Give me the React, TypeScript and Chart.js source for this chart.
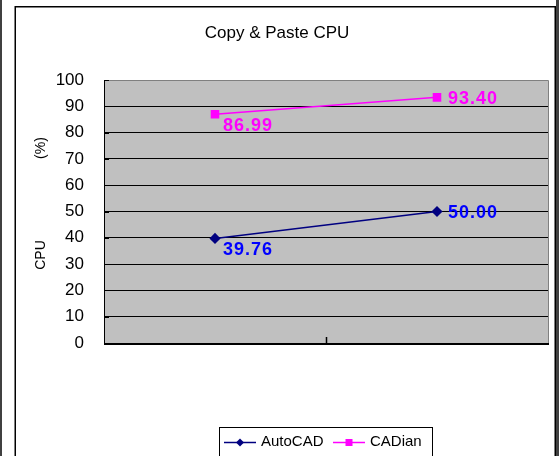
import React, { useEffect, useRef } from 'react';
import { Chart, registerables } from 'chart.js';

Chart.register(...registerables);

const chartTitle = 'Copy & Paste CPU';
const categories = ['Test 1', 'Test 2'];
const seriesNames = ['AutoCAD', 'CADian'];
const autocadValues = [39.76, 50.0];
const cadianValues = [86.99, 93.4];
const yMin = 0;
const yMax = 100;
const yStep = 10;
const yTitleParts = ['CPU', '(%)'];

const FONT = '"Liberation Sans", Arial, sans-serif';
const labelColors = ['#0000FF', '#FF00FF'];

const decorPlugin = {
  id: 'decor',
  beforeDraw(chart: any) {
    const { ctx, chartArea } = chart;
    ctx.save();
    ctx.fillStyle = '#ffffff';
    ctx.fillRect(0, 0, chart.width, chart.height);
    ctx.fillStyle = '#404040';
    ctx.fillRect(0, 0, 2, chart.height);
    ctx.fillRect(556, 0, 3, chart.height);
    ctx.strokeStyle = '#000';
    ctx.lineWidth = 1.5;
    ctx.strokeRect(15.25, 6.75, 540, 520);
    ctx.fillStyle = '#C0C0C0';
    ctx.fillRect(chartArea.left, chartArea.top, chartArea.right - chartArea.left, chartArea.bottom - chartArea.top);
    ctx.restore();
  },
  afterDatasetsDraw(chart: any) {
    const { ctx } = chart;
    ctx.save();
    ctx.font = `bold 18px ${FONT}`;
    try { (ctx as any).letterSpacing = '1px'; } catch (e) {}
    ctx.textAlign = 'left';
    ctx.textBaseline = 'middle';
    chart.data.datasets.forEach((ds: any, di: number) => {
      const meta = chart.getDatasetMeta(di);
      ctx.fillStyle = labelColors[di];
      meta.data.forEach((pt: any, i: number) => {
        const txt = Number(ds.data[i]).toFixed(2);
        if (i === 0) ctx.fillText(txt, pt.x + 8, pt.y + 12);
        else ctx.fillText(txt, pt.x + 11, pt.y + 2);
      });
    });
    ctx.restore();
  },
  afterDraw(chart: any) {
    const { ctx, chartArea, scales } = chart;
    const { left, right, top, bottom } = chartArea;
    ctx.save();
    ctx.strokeStyle = '#808080';
    ctx.lineWidth = 1;
    ctx.beginPath();
    ctx.moveTo(left, top + 0.5);
    ctx.lineTo(right + 0.5, top + 0.5);
    ctx.lineTo(right + 0.5, bottom);
    ctx.stroke();
    ctx.strokeStyle = '#000';
    ctx.beginPath();
    ctx.moveTo(left + 0.5, top);
    ctx.lineTo(left + 0.5, bottom);
    ctx.stroke();
    ctx.lineWidth = 2;
    ctx.beginPath();
    ctx.moveTo(left, bottom + 1);
    ctx.lineTo(right + 1, bottom + 1);
    ctx.stroke();
    ctx.lineWidth = 1;
    const ys = scales.y;
    for (let v = yMin; v <= yMax; v += yStep) {
      const py = Math.round(ys.getPixelForValue(v)) + 0.5;
      ctx.beginPath();
      ctx.moveTo(left, py);
      ctx.lineTo(left + 5, py);
      ctx.stroke();
    }
    const xs = scales.x;
    const mid = Math.round((xs.getPixelForValue(0) + xs.getPixelForValue(1)) / 2) + 0.5;
    ctx.lineWidth = 1.5;
    ctx.beginPath();
    ctx.moveTo(mid, bottom - 6);
    ctx.lineTo(mid, bottom);
    ctx.stroke();

    ctx.fillStyle = '#000';
    ctx.font = `17px ${FONT}`;
    ctx.textAlign = 'center';
    ctx.textBaseline = 'alphabetic';
    ctx.fillText(chartTitle, 277, 38);

    ctx.font = `14px ${FONT}`;
    ctx.textBaseline = 'middle';
    const drawRot = (t: string, x: number, y: number) => {
      ctx.save();
      ctx.translate(x, y);
      ctx.rotate(-Math.PI / 2);
      ctx.fillText(t, 0, 0);
      ctx.restore();
    };
    drawRot(yTitleParts[0], 41, 255);
    drawRot(yTitleParts[1], 41, 148);

    const lx = 219.5, ly = 427.5;
    ctx.strokeStyle = '#000';
    ctx.lineWidth = 1;
    ctx.strokeRect(lx, ly, 213, 40);
    const cy = 442;
    const xStarts = [224, 333];
    ctx.font = `15px ${FONT}`;
    ctx.textAlign = 'left';
    chart.data.datasets.forEach((ds: any, i: number) => {
      const x0 = xStarts[i];
      ctx.strokeStyle = ds.borderColor;
      ctx.lineWidth = 1.5;
      ctx.beginPath();
      ctx.moveTo(x0, cy + 0.5);
      ctx.lineTo(x0 + 32, cy + 0.5);
      ctx.stroke();
      ctx.fillStyle = ds.pointBackgroundColor;
      const cx = x0 + 16;
      if (ds.pointStyle === 'rectRot') {
        ctx.beginPath();
        ctx.moveTo(cx - 4, cy + 0.5);
        ctx.lineTo(cx, cy - 3.5);
        ctx.lineTo(cx + 4, cy + 0.5);
        ctx.lineTo(cx, cy + 4.5);
        ctx.closePath();
        ctx.fill();
      } else {
        ctx.fillRect(cx - 3.5, cy - 3, 7, 7);
      }
      ctx.fillStyle = '#000';
      ctx.fillText(ds.label, x0 + 37, cy);
    });
    ctx.restore();
  },
};

export default function App() {
  const ref = useRef<HTMLCanvasElement | null>(null);
  useEffect(() => {
    if (!ref.current) return;
    const chart = new Chart(ref.current, {
      type: 'line',
      data: {
        labels: categories,
        datasets: [
          {
            label: seriesNames[0],
            data: autocadValues,
            borderColor: '#000080',
            backgroundColor: '#000080',
            pointBackgroundColor: '#000080',
            pointBorderColor: '#000080',
            pointStyle: 'rectRot',
            pointRadius: 4.5,
            borderWidth: 1.5,
            tension: 0,
          },
          {
            label: seriesNames[1],
            data: cadianValues,
            borderColor: '#FF00FF',
            backgroundColor: '#FF00FF',
            pointBackgroundColor: '#FF00FF',
            pointBorderColor: '#FF00FF',
            pointStyle: 'rect',
            pointRadius: 5,
            borderWidth: 1.5,
            tension: 0,
          },
        ],
      },
      options: {
        responsive: false,
        animation: false,
        devicePixelRatio: 1,
        layout: { padding: { left: 0, top: 80, right: 12, bottom: 113 } },
        plugins: {
          legend: { display: false },
          title: { display: false },
          tooltip: { enabled: false },
        },
        scales: {
          x: {
            type: 'category',
            offset: true,
            ticks: { display: false },
            grid: { display: false },
            border: { display: false },
            afterFit: (s: any) => { s.height = 0; },
          },
          y: {
            min: yMin,
            max: yMax,
            ticks: {
              stepSize: yStep,
              padding: 20,
              color: '#000',
              font: { family: FONT, size: 17 },
            },
            grid: {
              drawTicks: false,
              lineWidth: 1,
              color: (c: any) => (c.tick && (c.tick.value === yMax || c.tick.value === yMin) ? 'rgba(0,0,0,0)' : '#000'),
            },
            border: { display: false },
            afterFit: (s: any) => { s.width = 104; },
          },
        },
      },
      plugins: [decorPlugin],
    } as any);
    return () => chart.destroy();
  }, []);
  return (
    <div style={{ position: 'absolute', left: 0, top: 0, width: 560, height: 456 }}>
      <canvas ref={ref} width={560} height={456} />
    </div>
  );
}
